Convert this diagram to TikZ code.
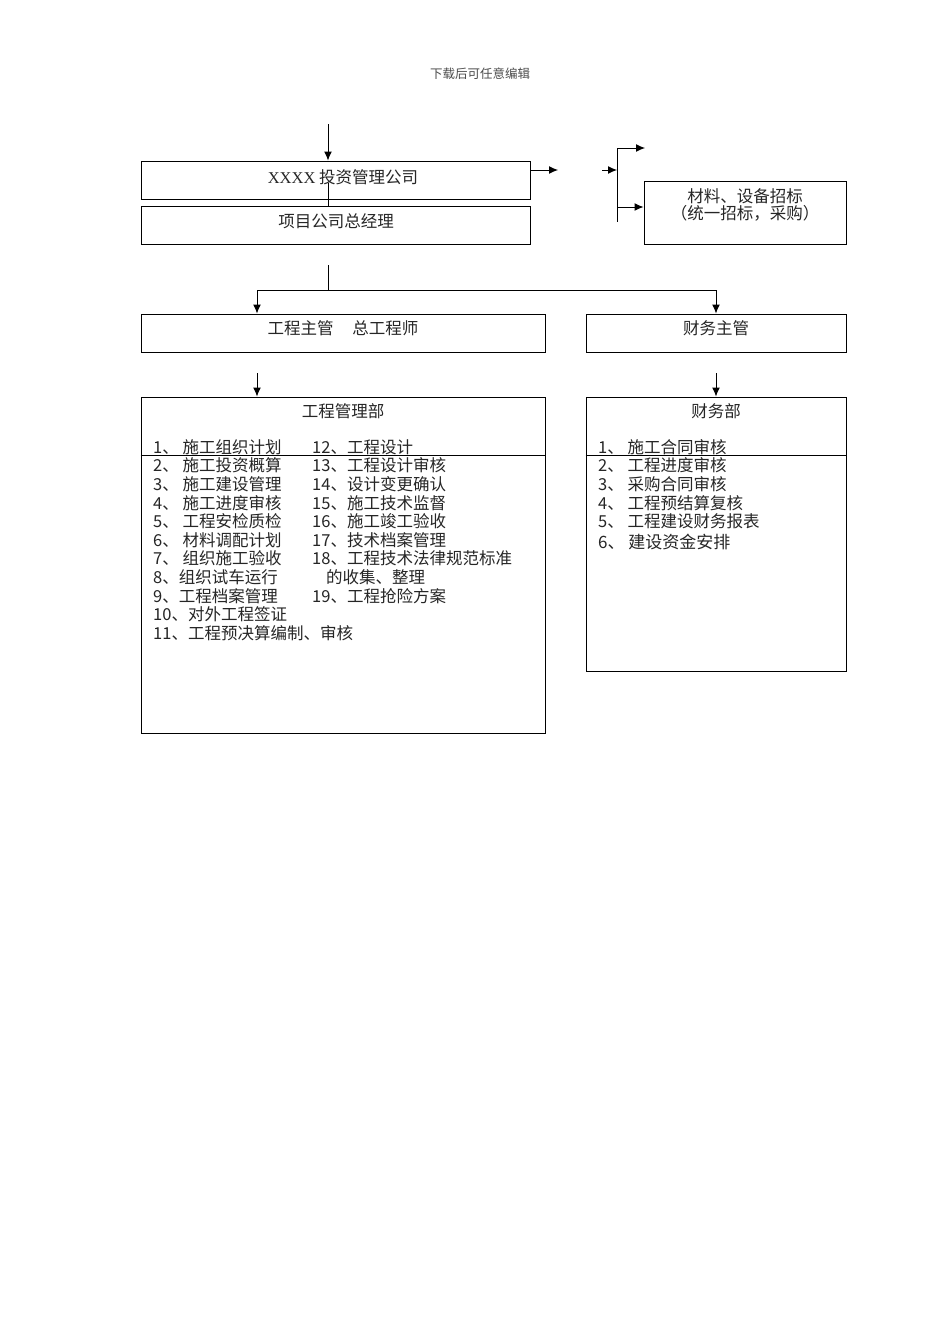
\documentclass[tikz,border=0pt]{standalone}
\usepackage{fontspec}
\setmainfont{Noto Sans CJK SC}
\newfontfamily\latserif{Liberation Serif}
\usetikzlibrary{arrows.meta}
\tikzset{
  box/.style={draw=black, line width=1pt, rectangle, inner sep=0pt},
  lbl/.style={inner sep=0pt, text=black!85, font=\fontsize{16.5pt}{18pt}\selectfont},
  item/.style={lbl, anchor=west},
  conn/.style={line width=1pt, draw=black},
  arr/.style={conn, -{Latex[length=9pt,width=8pt]}}
}
\begin{document}
\begin{tikzpicture}[x=1pt,y=-1pt]
\useasboundingbox (0,0) rectangle (950,1344);
\fill[white] (0,0) rectangle (950,1344);
% header
\node[inner sep=0pt, text=black!70, font=\fontsize{12.5pt}{14pt}\selectfont] (hdr) at (480,74) {下载后可任意编辑};
% boxes
\node[box, minimum width=389pt, minimum height=38pt] (b1) at (335.5,180) {};
\node[box, minimum width=389pt, minimum height=38pt] (b2) at (335.5,225) {};
\node[box, minimum width=202pt, minimum height=63pt] (b3) at (745,212.5) {};
\node[box, minimum width=404pt, minimum height=38pt] (b4) at (343,333) {};
\node[box, minimum width=260pt, minimum height=38pt] (b5) at (716,333) {};
\node[box, minimum width=404pt, minimum height=336pt] (b6) at (343,565) {};
\node[box, minimum width=260pt, minimum height=274pt] (b7) at (716,534) {};
% box texts
\node[lbl] (t1) at (343,177) {{\latserif XXXX} 投资管理公司};
\node[lbl] (t2) at (336,221) {项目公司总经理};
\node[lbl] (t3a) at (745,196) {材料、设备招标};
\node[lbl] (t3b) at (745,213) {（统一招标，采购）};
\node[lbl] (t4) at (343,328) {工程主管\hspace{19pt}总工程师};
\node[lbl] (t5) at (716,328) {财务主管};
\node[lbl] (t6) at (343,411) {工程管理部};
\node[lbl] (t7) at (716,411) {财务部};
% lists
\foreach \i/\t in {1/{1、 施工组织计划},2/{2、 施工投资概算},3/{3、 施工建设管理},4/{4、 施工进度审核},5/{5、 工程安检质检},6/{6、 材料调配计划},7/{7、 组织施工验收},8/{8、组织试车运行},9/{9、工程档案管理},10/{10、对外工程签证},11/{11、工程预决算编制、审核}}
  \node[item] (l\i) at (153,{447+18.6*(\i-1)}) {\t};
\foreach \i/\t in {1/{12、工程设计},2/{13、工程设计审核},3/{14、设计变更确认},4/{15、施工技术监督},5/{16、施工竣工验收},6/{17、技术档案管理},7/{18、工程技术法律规范标准},9/{19、工程抢险方案}}
  \node[item] (r\i) at (312,{447+18.6*(\i-1)}) {\t};
\node[item] (r8) at (326,577) {的收集、整理};
\foreach \i/\t in {1/{1、 施工合同审核},2/{2、 工程进度审核},3/{3、 采购合同审核},4/{4、 工程预结算复核},5/{5、 工程建设财务报表}}
  \node[item] (f\i) at (598,{447+18.6*(\i-1)}) {\t};
\node[item, font=\fontsize{17pt}{19pt}\selectfont] (f6) at (598,542) {6、 建设资金安排};
% horizontal lines through the department boxes
\draw[conn] (b6.west |- 0,455) -- (b6.east |- 0,455);
\draw[conn] (b7.west |- 0,455) -- (b7.east |- 0,455);
% connectors
\coordinate (top) at (328,124);
\draw[arr] (top) -- (top |- b1.north);
\coordinate (v1) at (328,183);
\draw[conn] (v1) -- (v1 |- b2.north);
\coordinate (r1) at (558,170);
\draw[arr] (b1.east |- r1) -- (r1);
\coordinate (s0) at (602,170);
\coordinate (s1) at (617,170);
\draw[arr] (s0) -- (s1);
\coordinate (bt) at (617,148);
\coordinate (bb) at (617,222);
\draw[conn] (bt) -- (bb);
\coordinate (bte) at (645,148);
\draw[arr] (bt) -- (bte);
\coordinate (bm) at (617,207);
\draw[arr] (bm) -- (b3.west |- bm);
\coordinate (d0) at (328,265);
\coordinate (d1) at (328,290);
\coordinate (hl) at (257,290);
\coordinate (hr) at (716,290);
\draw[conn] (d0) -- (d1);
\draw[conn] (hl) -- (hr);
\draw[arr] (hl) -- (hl |- b4.north);
\draw[arr] (hr) -- (hr |- b5.north);
\coordinate (e1) at (257,373);
\coordinate (e2) at (716,373);
\draw[arr] (e1) -- (e1 |- b6.north);
\draw[arr] (e2) -- (e2 |- b7.north);
\end{tikzpicture}
\end{document}
